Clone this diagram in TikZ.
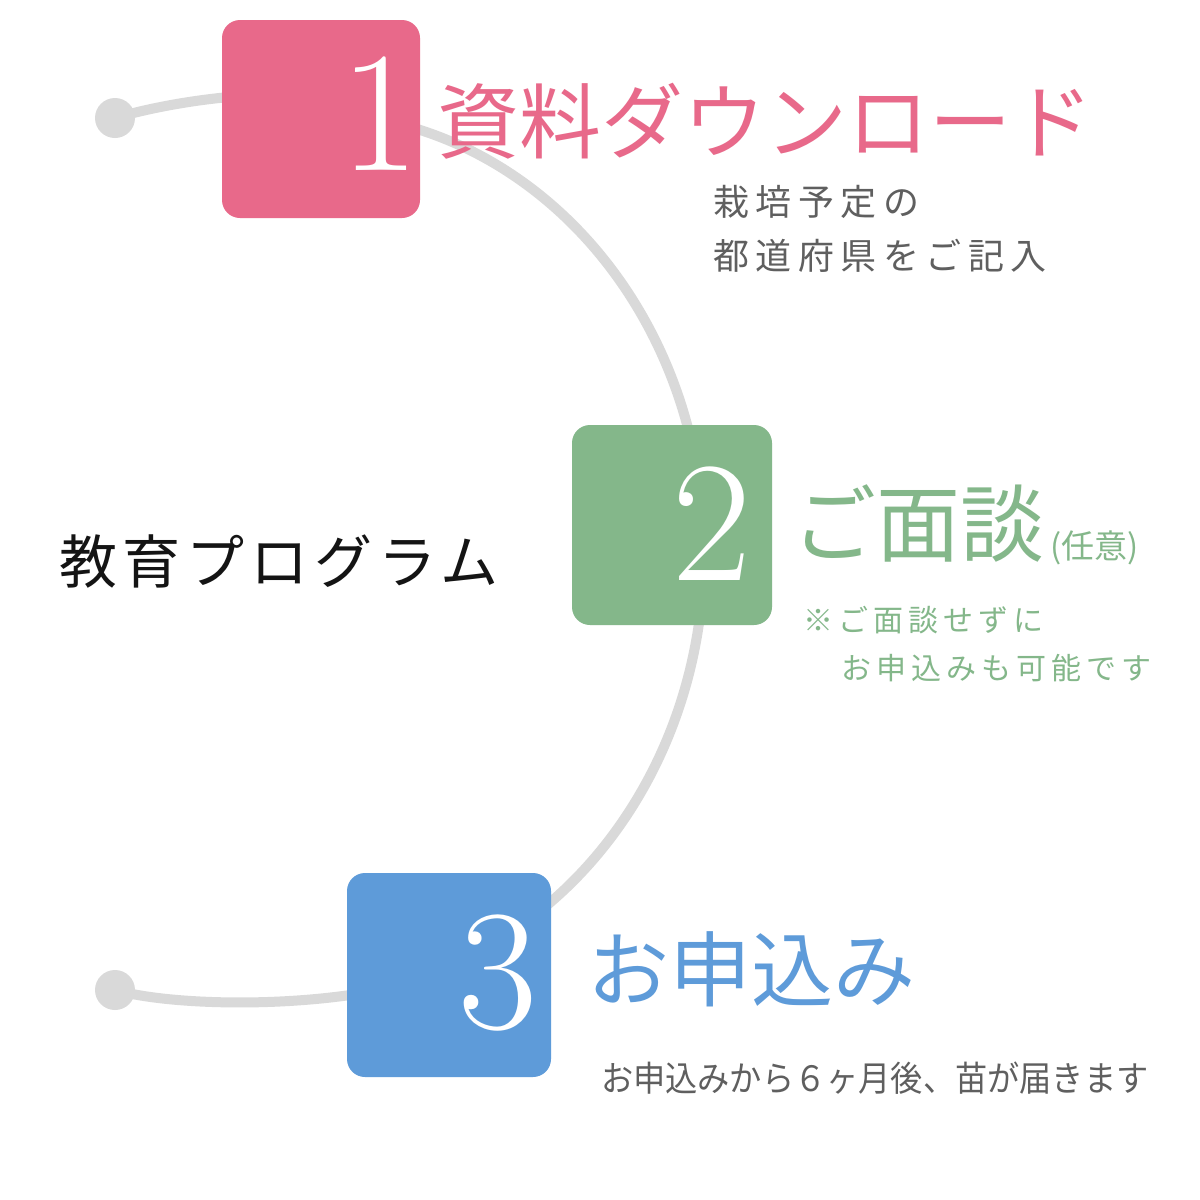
\documentclass[tikz,border=0pt]{standalone}
\usepackage{fontspec}
\newfontfamily\jp{Noto Sans CJK JP}
\newfontfamily\jpsub[LetterSpace=18]{Noto Sans CJK JP}
\newfontfamily\jpmid[LetterSpace=10]{Noto Sans CJK JP}
\newfontfamily\jpnote[LetterSpace=17]{Noto Sans CJK JP}
\definecolor{pinkc}{HTML}{E8698A}
\definecolor{greenc}{HTML}{84B78A}
\definecolor{bluec}{HTML}{5E9BD9}
\definecolor{trackc}{HTML}{D9D9D9}
\definecolor{greytext}{HTML}{5F5F5F}
\definecolor{darktext}{HTML}{141414}
\begin{document}
\begin{tikzpicture}[x=1pt,y=-1pt,
  stepbox/.style={rounded corners=18pt, inner sep=0pt, draw=none},
  num/.style={text=white, inner sep=0pt, anchor=base, font=\fontsize{172}{172}\selectfont},
  title/.style={inner sep=0pt, anchor=base west, font=\jp\fontsize{82}{82}\selectfont},
  subtext/.style={inner sep=0pt, anchor=base west, text=greytext, font=\jpsub\fontsize{36}{36}\selectfont},
  notetext/.style={inner sep=0pt, anchor=base west, text=greenc, font=\jpnote\fontsize{30}{30}\selectfont},
  track/.style={draw=trackc, line width=10pt, line cap=round},
  dotnode/.style={circle, fill=trackc, minimum size=40pt, inner sep=0pt}]
\useasboundingbox (0,0) rectangle (1200,1200);
\fill[white] (0,0) rectangle (1200,1200);

% dots
\node[dotnode] (d1) at (115,118) {};
\node[dotnode] (d3) at (115,990) {};

% track: tails and the large arc (ends hidden behind the boxes)
\coordinate (tailend1) at (300,94);
\coordinate (tailend3) at (420,980);
\coordinate (arcstart) at (312,113);
\draw[track] (d1.center) .. controls (170,102) and (240,93) .. (tailend1);
\draw[track] (d3.center) .. controls (180,1008) and (330,1008) .. (tailend3);
\draw[track] (arcstart) arc[start angle=90, end angle=-69.5, x radius=392pt, y radius=440pt];

% boxes
\node[stepbox, fill=pinkc, minimum width=198pt, minimum height=198pt] (b1) at (321,119) {};
\node[stepbox, fill=greenc, minimum width=200pt, minimum height=200pt] (b2) at (672,525) {};
\node[stepbox, fill=bluec, minimum width=204pt, minimum height=204pt] (b3) at (449,975) {};

% numbers
\node[num] (n1) at (380,170) {1};
\node[num] (n2) at (712,580) {2};
\node[num] (n3) at (498,1028) {3};

% step 1 texts
\node[title, text=pinkc] (t1) at (437,152) {資料ダウンロード};
\node[subtext] (s1a) at (713,215) {栽培予定の};
\node[subtext] (s1b) at (713,269) {都道府県をご記入};

% step 2 texts
\node[title, text=greenc, font=\jp\fontsize{84}{84}\selectfont] (t2) at (792,555) {ご面談};
\node[inner sep=0pt, anchor=base west, text=greenc, font=\jp\fontsize{33}{33}\selectfont] (t2b) at ([xshift=6pt,yshift=-3pt]t2.base east) {(任意)};
\node[notetext] (s2a) at (803,631) {※ご面談せずに};
\node[notetext] (s2b) at (841,679) {お申込みも可能です};

% step 3 texts
\node[title, text=bluec] (t3) at (587,1000) {お申込み};
\node[inner sep=0pt, anchor=base west, text=greytext, xscale=0.92, font=\jp\fontsize{35}{35}\selectfont] (s3) at (601,1091) {お申込みから６ヶ月後、苗が届きます};

% left label
\node[inner sep=0pt, anchor=base west, text=darktext, font=\jpmid\fontsize{58}{58}\selectfont] (lbl) at (59,583) {教育プログラム};
\end{tikzpicture}
\end{document}
